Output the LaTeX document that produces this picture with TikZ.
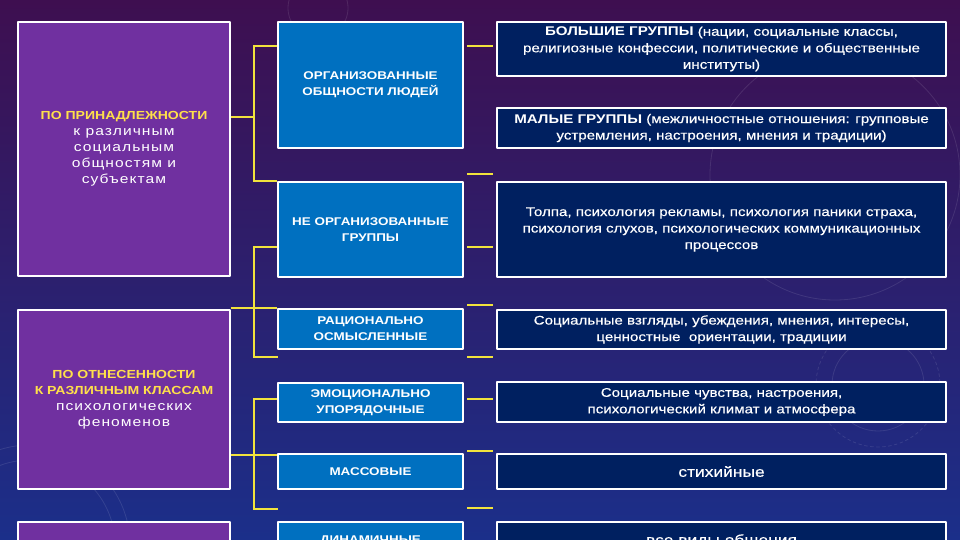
\documentclass[tikz,border=0pt]{standalone}
\usepackage{fontspec}
\setmainfont{Liberation Sans}[FakeStretch=1.2]
\newfontfamily\spacedfont{Liberation Sans}[FakeStretch=1.2,LetterSpace=8]
\newfontfamily\descfont{Liberation Sans}[FakeStretch=1.2,FakeBold=0.4]
\definecolor{bgtop}{HTML}{3E0F50}
\definecolor{bgmid}{HTML}{2E1F78}
\definecolor{bgbot}{HTML}{1B2F8A}
\definecolor{slpurple}{HTML}{7030A0}
\definecolor{slblue}{HTML}{0070C0}
\definecolor{slnavy}{HTML}{002060}
\definecolor{slyellow}{HTML}{F2E33C}
\definecolor{sltext}{HTML}{FFE04A}
\begin{document}
\begin{tikzpicture}[x=1pt,y=-1pt,line join=round,line cap=round]
	\tikzset{box/.style={draw=white,line width=1.3pt,inner sep=0pt,align=center,text=white},
		headbox/.style={box,fill=slpurple,minimum width=212pt,font=\spacedfont\fontsize{13}{16}\selectfont},
		kindbox/.style={box,fill=slblue,minimum width=185pt,font=\bfseries\fontsize{11.2}{16}\selectfont},
		descbox/.style={box,fill=slnavy,minimum width=449pt,font=\descfont\fontsize{12.6}{16.5}\selectfont},
		link/.style={draw=slyellow,line width=1.8pt,line cap=butt,line join=miter},
		decor/.style={draw=white,opacity=0.1,line width=0.8pt}}
	\newcommand\headline[1]{{\color{sltext}\rmfamily\bfseries\fontsize{11.7}{15}\selectfont #1}}
	\newcommand\groupname[1]{{\rmfamily\bfseries #1}}
	\useasboundingbox (0,0) rectangle (960,540);
	\clip (0,0) rectangle (960,540);
	\shade[top color=bgtop,middle color=bgmid,bottom color=bgbot] (0,0) rectangle (960,540);
	% faint background ornaments
	\draw[decor] (318,8) circle (30);
	\draw[decor] (835,175) circle (125);
	\draw[decor,dashed] (878,385) circle (62);
	\draw[decor] (878,385) circle (46);
	\draw[decor] (30,545) circle (85);
	\draw[decor] (30,545) circle (100);
	% left column
	\node[headbox,minimum height=254pt] (own) at (124,149) {\headline{ПО ПРИНАДЛЕЖНОСТИ}\\к различным\\социальным\\общностям и\\субъектам};
	\node[headbox,minimum height=179pt] (ref) at (124,399.5) {\headline{ПО ОТНЕСЕННОСТИ}\\\headline{К РАЗЛИЧНЫМ КЛАССАМ}\\психологических\\феноменов};
	\node[headbox,minimum height=58pt] (third) at (124,551) {};
	% middle column
	\node[kindbox,minimum height=126pt] (org) at (370.5,85) {ОРГАНИЗОВАННЫЕ\\ОБЩНОСТИ ЛЮДЕЙ};
	\node[kindbox,minimum height=95pt] (neorg) at (370.5,229.5) {НЕ ОРГАНИЗОВАННЫЕ\\ГРУППЫ};
	\node[kindbox,minimum height=40pt] (rat) at (370.5,329) {РАЦИОНАЛЬНО\\ОСМЫСЛЕННЫЕ};
	\node[kindbox,minimum height=39pt] (emo) at (370.5,402.5) {ЭМОЦИОНАЛЬНО\\УПОРЯДОЧНЫЕ};
	\node[kindbox,minimum height=35pt] (mass) at (370.5,471.5) {МАССОВЫЕ};
	\node[kindbox,minimum height=38pt] (dyn) at (370.5,541) {ДИНАМИЧНЫЕ};
	% right column
	\node[descbox,minimum height=54pt] (big) at (721.5,49) {\groupname{БОЛЬШИЕ ГРУППЫ} (нации, социальные классы,\\религиозные конфессии, политические и общественные\\институты)};
	\node[descbox,minimum height=40pt] (small) at (721.5,128) {\groupname{МАЛЫЕ ГРУППЫ} (межличностные отношения: групповые\\устремления, настроения, мнения и традиции)};
	\node[descbox,minimum height=95pt] (crowd) at (721.5,229.5) {Толпа, психология рекламы, психология паники страха,\\психология слухов, психологических коммуникационных\\процессов};
	\node[descbox,minimum height=39pt] (views) at (721.5,329.5) {Социальные взгляды, убеждения, мнения, интересы,\\ценностные \ ориентации, традиции};
	\node[descbox,minimum height=40pt] (feel) at (721.5,402) {Социальные чувства, настроения,\\психологический климат и атмосфера};
	\node[descbox,minimum height=35pt,font=\descfont\fontsize{14.5}{18}\selectfont] (spont) at (721.5,471.5) {стихийные};
	\node[descbox,minimum height=38pt,font=\descfont\fontsize{14.5}{18}\selectfont] (all) at (721.5,541) {все виды общения};
	% brackets
	\coordinate (j1) at (254,117);
	\coordinate (j2) at (254,308);
	\coordinate (j3) at (254,455);
	\coordinate (e2) at (278,357);
	\coordinate (e3) at (278,509);
	\draw[link] (own.east |- j1) -- (j1);
	\draw[link] (org.west |- 0,46) -| (j1) |- (neorg.north west);
	\draw[link] (neorg.west |- 0,247) -| (j2) |- (e2);
	\draw[link] (ref.east |- j2) -- (rat.west |- j2);
	\draw[link] (emo.west |- 0,399) -| (j3) |- (e3);
	\draw[link] (ref.east |- j3) -- (mass.west |- j3);
	% short marks before the right column
	\foreach \y in {46,174,247,305,357,399,451,508}
	\draw[link] (467,\y) -- (493,\y);
\end{tikzpicture}
\end{document}
